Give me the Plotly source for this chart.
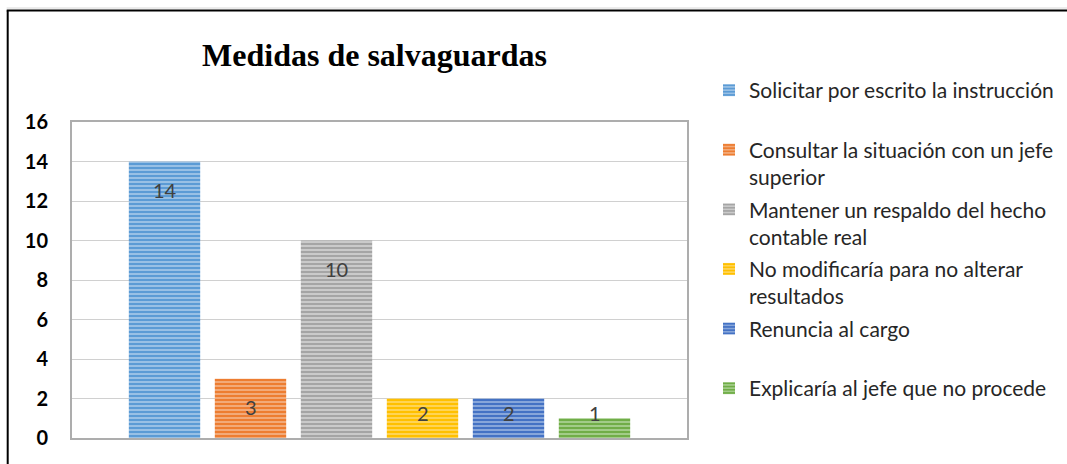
import plotly.graph_objects as go

title = "Medidas de salvaguardas"
series = [
    "Solicitar por escrito la instrucción",
    "Consultar la situación con un jefe<br>superior",
    "Mantener un respaldo del hecho<br>contable real",
    "No modificaría para no alterar<br>resultados",
    "Renuncia al cargo",
    "Explicaría al jefe que no procede",
]
values = [14, 3, 10, 2, 2, 1]
dark_colors = ["#5B9BD5", "#ED7D31", "#A5A5A5", "#FFC000", "#4472C4", "#70AD47"]
light_colors = ["#B2D0EC", "#F5BE98", "#DADADA", "#FFDD7A", "#A4BCE4", "#B8D9A4"]
category = ["Medidas"]
y_ticks = [0, 2, 4, 6, 8, 10, 12, 14, 16]

fig = go.Figure()
for i, (name, v) in enumerate(zip(series, values)):
    label = name if "<br>" in name else name + "<br>&nbsp;"
    fig.add_trace(go.Bar(
        x=category, y=[v], name=label, legendgroup=str(i),
        marker=dict(color=light_colors[i],
                    line=dict(width=0),
                    pattern=dict(shape="-", fgcolor=dark_colors[i], bgcolor=light_colors[i],
                                 fgopacity=1, size=4, solidity=0.65, fillmode="overlay")),
        hoverinfo="skip",
    ))

# data labels (Excel "inside end", kept above the axis for short bars)
px_per_unit = 316 / 16
annotations = []
for i, v in enumerate(values):
    ly = max(v - 28 / px_per_unit, 25 / px_per_unit)
    annotations.append(dict(
        x=category[0], y=ly, xref="x", yref="y", text=str(v), showarrow=False,
        xshift=(i - 2.5) * 86, yanchor="middle",
        font=dict(family="Lato", size=20, color="#404040"),
    ))

fig.update_layout(
    width=1067, height=464,
    margin=dict(l=72, r=380, t=122, b=26, autoexpand=False),
    paper_bgcolor="white", plot_bgcolor="white",
    barmode="group", bargap=0.161, bargroupgap=0.17,
    title=dict(text="<b>" + title + "</b>", x=(374.5) / 1067, xanchor="center",
               y=1 - 55 / 464, yanchor="middle",
               font=dict(family="Liberation Serif", size=32, color="black")),
    showlegend=True,
    legend=dict(x=1.0 + (729 - 20 - 687) / 615, xanchor="left", y=1 + (122 - 70) / 316, yanchor="top",
                valign="top", tracegroupgap=2, traceorder="grouped", maxheight=420,
                font=dict(family="Lato", size=21, color="#262626"),
                bgcolor="rgba(0,0,0,0)"),
    annotations=annotations,
    xaxis=dict(showticklabels=False, showgrid=False, showline=True, linecolor="#ADADAD",
               linewidth=2, mirror=True, ticks=""),
    yaxis=dict(range=[0, 16], tickvals=y_ticks, showgrid=True, gridcolor="#D0D0D0", gridwidth=1,
               showline=True, linecolor="#ADADAD", linewidth=2, mirror=True, ticks="",
               zeroline=False, ticklabelstandoff=18,
               tickfont=dict(family="Lato", size=20, color="black", weight="bold")),
    shapes=[
        dict(type="line", xref="paper", yref="paper", x0=(7.7 - 72) / 615, x1=(7.7 - 72) / 615,
             y0=(438 - 10.5) / 316, y1=(438 - 480) / 316, line=dict(color="black", width=2)),
        dict(type="line", xref="paper", yref="paper", x0=(6.7 - 72) / 615, x1=(1080 - 72) / 615,
             y0=(438 - 10.5) / 316, y1=(438 - 10.5) / 316, line=dict(color="black", width=2)),
        dict(type="line", xref="paper", yref="paper", x0=(6.7 - 72) / 615, x1=(1080 - 72) / 615,
             y0=(438 - 8) / 316, y1=(438 - 8) / 316, line=dict(color="#D8D8D8", width=1)),
    ],
)
fig.write_html("out.html", config={"displayModeBar": False},
               post_script="document.body.style.margin='0';")
